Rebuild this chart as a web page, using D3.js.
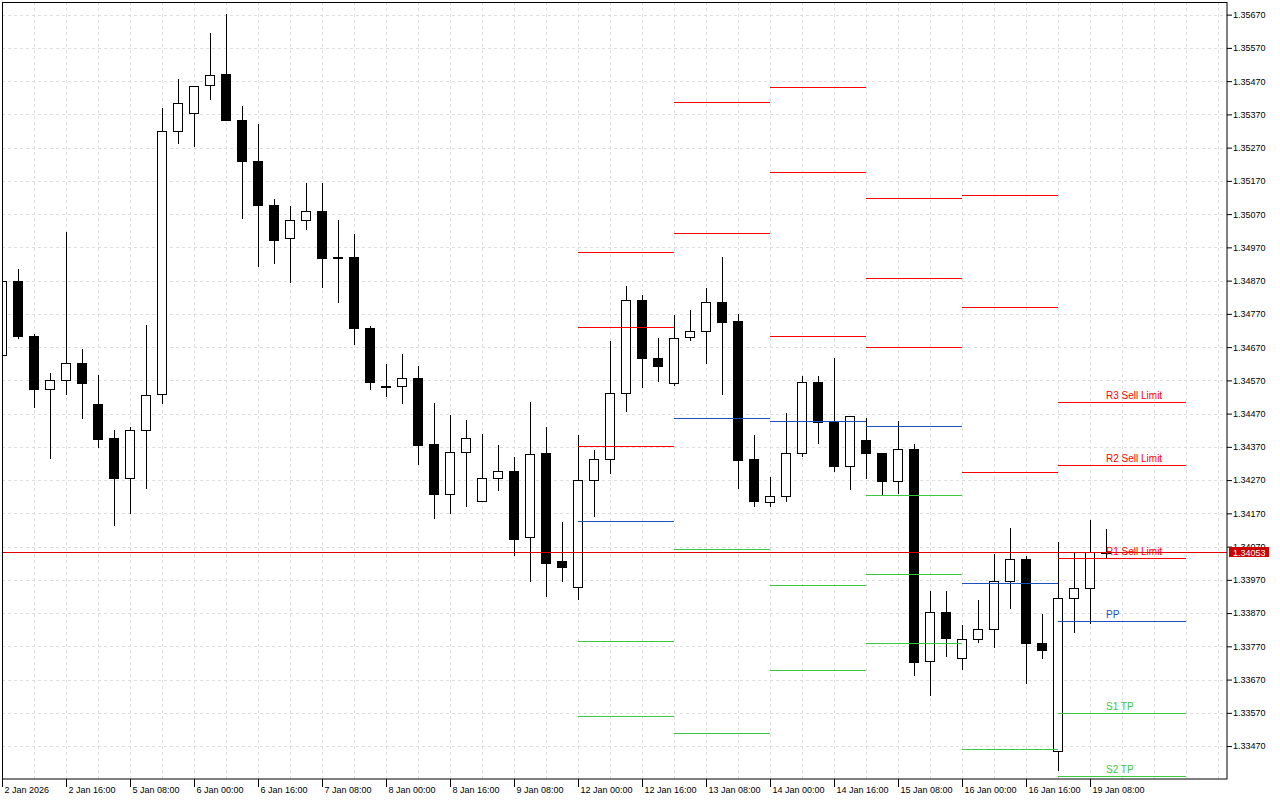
<!DOCTYPE html>
<html>
<head>
<meta charset="utf-8">
<script src="https://cdn.jsdelivr.net/npm/d3@7"></script>
<style>
body { margin: 0; background: #fff; }
text { font-family: "Liberation Sans", Arial, sans-serif; }
</style>
</head>
<body>
<div id="chart"></div>
<script>
// H4 bars, 2 Jan 2026 00:00 .. 19 Jan 2026 12:00
let opens  = [1.34646,1.34868,1.34704,1.34543,1.34571,1.34622,1.34499,1.34397,1.34275,1.34421,
              1.34529,1.35320,1.35374,1.35457,1.35492,1.35353,1.35231,1.35098,1.34998,1.35051,
              1.35080,1.34942,1.34940,1.34727,1.34553,1.34552,1.34576,1.34378,1.34227,1.34354,
              1.34206,1.34276,1.34297,1.34098,1.34351,1.34026,1.33948,1.34270,1.34333,1.34531,
              1.34811,1.34636,1.34563,1.34700,1.34717,1.34805,1.34748,1.34333,1.34203,1.34221,
              1.34351,1.34564,1.34446,1.34312,1.34390,1.34351,1.34266,1.34364,1.33727,1.33872,
              1.33734,1.33791,1.33823,1.33966,1.34032,1.33781,1.33455,1.33915,1.33944,1.34055]
let highs  = [1.34875,1.34905,1.34708,1.34592,1.35016,1.34664,1.34586,1.34421,1.34430,1.34737,
              1.35388,1.35477,1.35455,1.35615,1.35672,1.35395,1.35341,1.35116,1.35095,1.35163,
              1.35163,1.35052,1.35010,1.34734,1.34619,1.34649,1.34613,1.34502,1.34466,1.34451,
              1.34409,1.34376,1.34340,1.34505,1.34430,1.34144,1.34405,1.34360,1.34689,1.34853,
              1.34826,1.34698,1.34767,1.34782,1.34848,1.34941,1.34769,1.34405,1.34279,1.34472,
              1.34583,1.34583,1.34637,1.34464,1.34456,1.34351,1.34448,1.34380,1.33937,1.33937,
              1.33835,1.33909,1.34048,1.34125,1.34043,1.33867,1.34084,1.34055,1.34149,1.34124]
let lows   = [1.34640,1.34695,1.34487,1.34334,1.34526,1.34454,1.34367,1.34132,1.34168,1.34243,
              1.34500,1.35282,1.35272,1.35412,1.35352,1.35056,1.34911,1.34920,1.34864,1.35022,
              1.34847,1.34804,1.34677,1.34542,1.34521,1.34500,1.34316,1.34154,1.34169,1.34190,
              1.34206,1.34238,1.34043,1.33964,1.33919,1.33964,1.33910,1.34160,1.34289,1.34476,
              1.34548,1.34566,1.34553,1.34689,1.34620,1.34527,1.34243,1.34190,1.34190,1.34205,
              1.34339,1.34380,1.34295,1.34241,1.34272,1.34225,1.34229,1.33681,1.33622,1.33739,
              1.33699,1.33781,1.33766,1.33881,1.33657,1.33733,1.33394,1.33809,1.33838,1.34036]
let closes = [1.34869,1.34704,1.34543,1.34571,1.34622,1.34563,1.34394,1.34275,1.34421,1.34526,
              1.35320,1.35404,1.35454,1.35487,1.35352,1.35231,1.35096,1.34993,1.35052,1.35079,
              1.34939,1.34942,1.34726,1.34566,1.34553,1.34576,1.34377,1.34229,1.34354,1.34396,
              1.34276,1.34297,1.34094,1.34348,1.34022,1.34010,1.34270,1.34333,1.34531,1.34811,
              1.34638,1.34614,1.34697,1.34718,1.34805,1.34747,1.34331,1.34208,1.34221,1.34351,
              1.34564,1.34444,1.34313,1.34464,1.34351,1.34266,1.34365,1.33724,1.33872,1.33796,
              1.33791,1.33823,1.33966,1.34032,1.33781,1.33758,1.33915,1.33944,1.34055,1.34053]

// one label every 4 bars
let timeLabels = ["2 Jan 2026","2 Jan 16:00","5 Jan 08:00","6 Jan 00:00","6 Jan 16:00","7 Jan 08:00",
                  "8 Jan 00:00","8 Jan 16:00","9 Jan 08:00","12 Jan 00:00","12 Jan 16:00","13 Jan 08:00",
                  "14 Jan 00:00","14 Jan 16:00","15 Jan 08:00","16 Jan 00:00","16 Jan 16:00","19 Jan 08:00"]
let priceTicks = [1.35670,1.35570,1.35470,1.35370,1.35270,1.35170,1.35070,1.34970,1.34870,1.34770,
                  1.34670,1.34570,1.34470,1.34370,1.34270,1.34170,1.34070,1.33970,1.33870,1.33770,
                  1.33670,1.33570,1.33470]

// daily pivots (12 Jan .. 19 Jan), bar index where each day's segment starts / ends
let pivotStart = [36, 42, 48, 54, 60, 66]
let pivotEnd   = [42, 48, 54, 60, 66, 74]
let r3 = [1.34956, null,    1.35453, 1.35119, 1.35128, 1.34505]
let r2 = [1.34731, 1.35407, 1.35197, 1.34878, 1.34791, 1.34316]
let r1 = [1.34373, 1.35013, 1.34704, 1.34670, 1.34294, 1.34036]
let pp = [1.34147, 1.34457, 1.34448, 1.34433, 1.33961, 1.33846]
let s1 = [1.33786, 1.34063, 1.33955, 1.34225, 1.33461, 1.33570]
let s2 = [1.33561, 1.33509, 1.33699, 1.33988, null,    1.33380]
let s3 = [null,    null,    null,    1.33780, null,    null]
let levelNames = ["R3 Sell Limit","R2 Sell Limit","R1 Sell Limit","PP","S1 TP","S2 TP","S3 TP"]

let lastPrice = 1.34053

var margin = {top: 2, right: 53, bottom: 21, left: 2},
width = 1280 - margin.left - margin.right,
height = 800 - margin.top - margin.bottom;

let svg = d3.select("#chart").append("svg")
            .attr("width", 1280)
            .attr("height", 800)
let container = svg.append("g")
            .attr("transform", "translate(" + margin.left + "," + margin.top + ")")

let xScale = d3.scaleLinear()
                .domain([0, width / 16])
                .range([0, width])
let yScale = d3.scaleLinear()
                .domain([1.33371, 1.35708])
                .range([height, 0])

let crisp = v => Math.round(v) + 0.5

svg.append("clipPath").attr("id", "plot")
    .append("rect").attr("width", width).attr("height", height)

// grid
let grid = container.append("g").attr("stroke", "#dedede").attr("stroke-dasharray", "3,3")
grid.selectAll(".hg").data(priceTicks).enter().append("line")
    .attr("x1", 0).attr("x2", width)
    .attr("y1", d => crisp(yScale(d))).attr("y2", d => crisp(yScale(d)))
grid.selectAll(".vg").data(d3.range(2, 77, 2)).enter().append("line")
    .attr("y1", 0).attr("y2", height)
    .attr("x1", d => crisp(xScale(d))).attr("x2", d => crisp(xScale(d)))

let plot = container.append("g").attr("clip-path", "url(#plot)")

// candles
let bars = d3.range(opens.length).map(i => ({i: i, o: opens[i], h: highs[i], l: lows[i], c: closes[i]}))
plot.append("g").selectAll("line").data(bars).enter().append("line")
    .attr("x1", d => crisp(xScale(d.i))).attr("x2", d => crisp(xScale(d.i)))
    .attr("y1", d => Math.round(yScale(d.h))).attr("y2", d => Math.round(yScale(d.l)))
    .attr("stroke", "#000")
plot.append("g").selectAll("rect").data(bars).enter().append("rect")
    .attr("x", d => xScale(d.i) - 4.5)
    .attr("width", 9)
    .attr("y", d => crisp(yScale(Math.max(d.o, d.c))))
    .attr("height", d => Math.max(Math.round(yScale(Math.min(d.o, d.c))) - Math.round(yScale(Math.max(d.o, d.c))), 1))
    .attr("fill", d => d.c >= d.o ? "#fff" : "#000")
    .attr("stroke", "#000")

// pivot levels
let levels = [r3, r2, r1, pp, s1, s2, s3]
let levelColors = ["#ff0000","#ff0000","#ff0000","#1e50c8","#3cc83c","#3cc83c","#3cc83c"]
levels.forEach(function(series, k) {
    let segs = series.map((v, d) => ({v: v, d: d})).filter(s => s.v != null)
    plot.append("g").selectAll("line").data(segs).enter().append("line")
        .attr("x1", s => xScale(pivotStart[s.d])).attr("x2", s => xScale(pivotEnd[s.d]))
        .attr("y1", s => crisp(yScale(s.v))).attr("y2", s => crisp(yScale(s.v)))
        .attr("stroke", levelColors[k])
    let last = series[series.length - 1]
    if (last != null) {
        plot.append("text")
            .attr("x", xScale(69))
            .attr("y", Math.round(yScale(last)) - 3)
            .attr("font-size", "10px")
            .attr("fill", levelColors[k])
            .text(levelNames[k])
    }
})

// bid line
plot.append("line")
    .attr("x1", 0).attr("x2", width)
    .attr("y1", crisp(yScale(lastPrice))).attr("y2", crisp(yScale(lastPrice)))
    .attr("stroke", "#e00000")

// border
container.append("rect")
    .attr("x", 0.5).attr("y", 0.5)
    .attr("width", width - 0.5).attr("height", height - 0.5)
    .attr("fill", "none").attr("stroke", "#000")

// price axis
let yAxis = d3.axisRight(yScale)
            .tickValues(priceTicks)
            .tickFormat(d3.format(".5f"))
            .tickSize(5)
            .tickPadding(1)
let ya = container.append("g")
    .attr("transform", "translate(" + width + ",0)")
    .call(yAxis)
ya.select(".domain").remove()
ya.selectAll("text").attr("font-size", "9px").attr("font-family", "Liberation Sans, Arial, sans-serif").attr("fill", "#000")

// time axis
let xAxis = d3.axisBottom(xScale)
            .tickValues(d3.range(0, 70, 4))
            .tickFormat((d, i) => timeLabels[i])
            .tickSize(8)
let xa = container.append("g")
    .attr("transform", "translate(0," + height + ")")
    .call(xAxis)
xa.select(".domain").remove()
xa.selectAll("text")
    .attr("text-anchor", "start")
    .attr("x", 2)
    .attr("y", 8)
    .attr("font-size", "9px").attr("font-family", "Liberation Sans, Arial, sans-serif").attr("fill", "#000")

// last price tag
let py = Math.round(yScale(lastPrice))
container.append("rect")
    .attr("x", width + 2).attr("y", py - 5)
    .attr("width", 40).attr("height", 10)
    .attr("fill", "#c80000")
container.append("text")
    .attr("x", width + 6).attr("y", py + 3.5)
    .attr("font-size", "9px")
    .attr("fill", "#fff")
    .text(d3.format(".5f")(lastPrice))
</script>
</body>
</html>
